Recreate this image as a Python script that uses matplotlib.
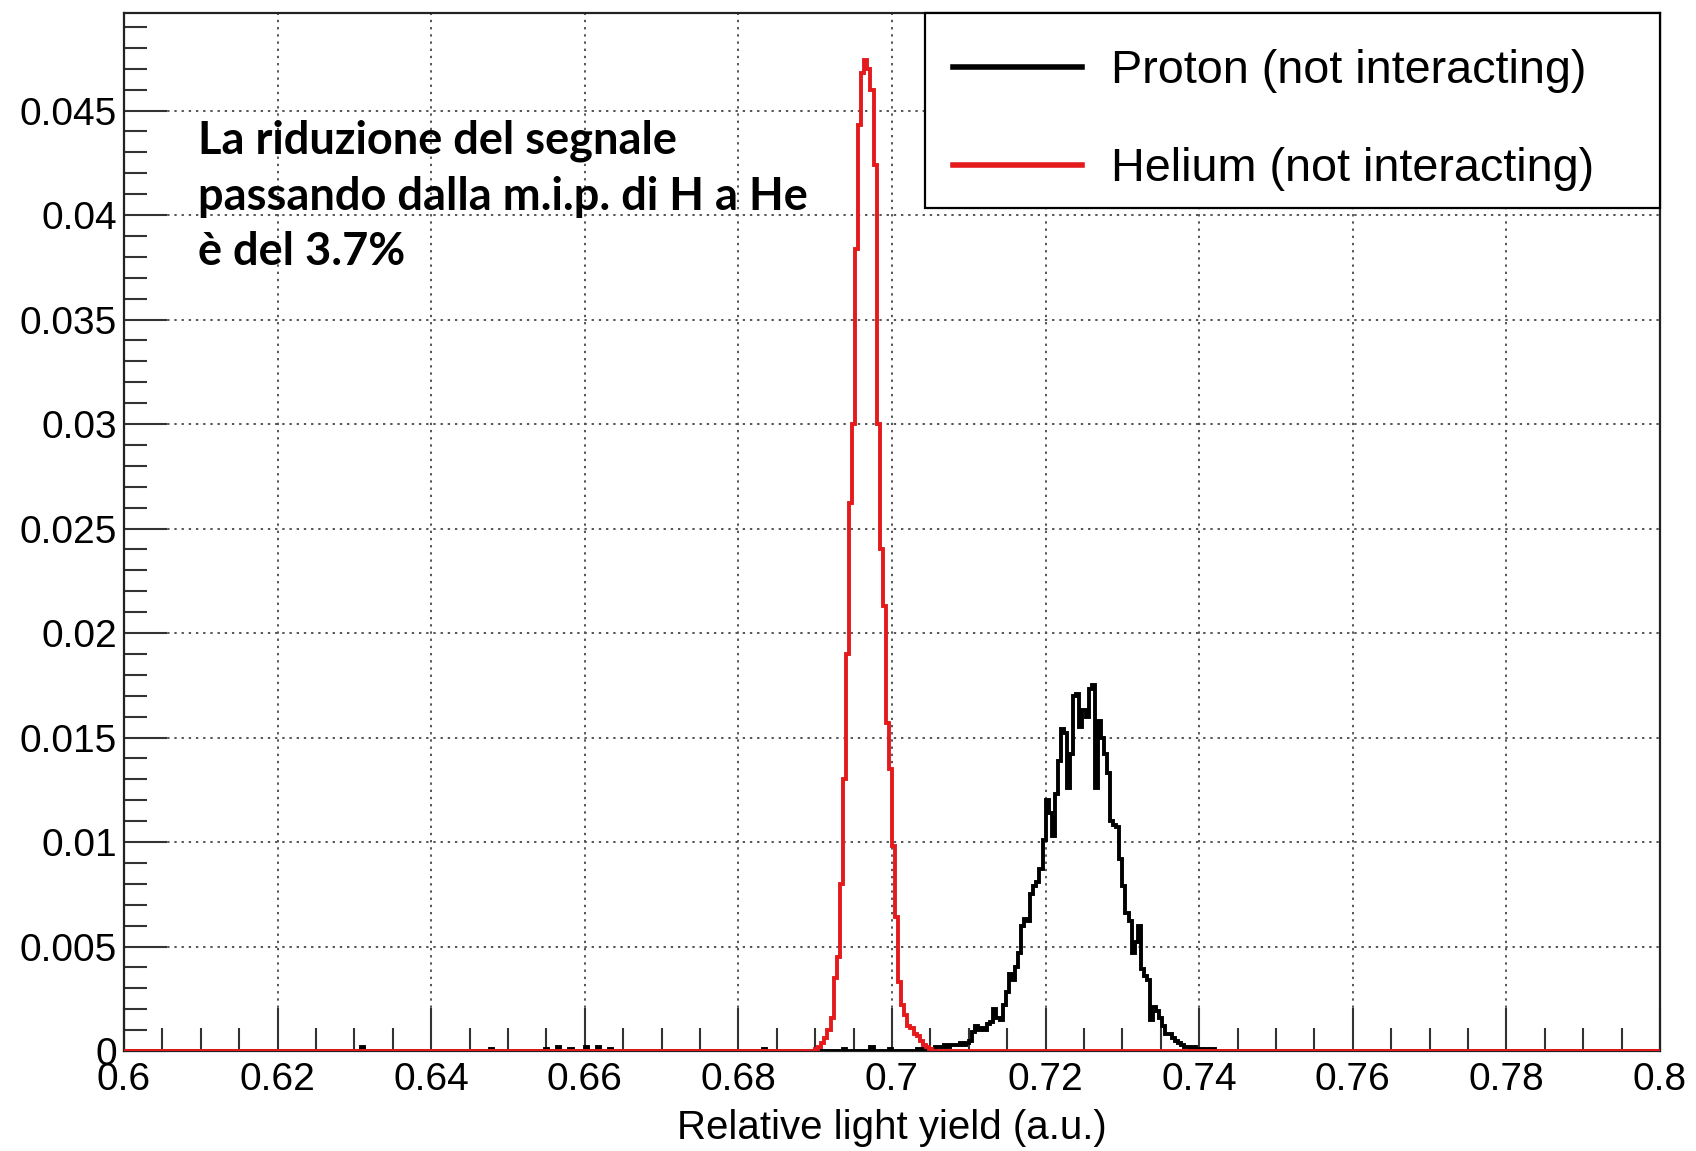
import numpy as np
import matplotlib.pyplot as plt
from matplotlib.patches import Rectangle
from matplotlib.ticker import MultipleLocator, FormatStrFormatter

plt.rcParams['font.family'] = ['Liberation Sans', 'DejaVu Sans']

# binning of the histograms (0.6 -> 0.8, 500 bins)
x_min, x_max, n_bins = 0.6, 0.8, 500

# Helium (not interacting): contents starting at bin edge 0.6900
helium_start = 0.6900
helium = [0.0001, 0.0002, 0.0004, 0.0006, 0.0010, 0.0016, 0.0035, 0.0045,
          0.0080, 0.0130, 0.0190, 0.0262, 0.0300, 0.0384, 0.0443, 0.0468,
          0.0474, 0.0470, 0.0460, 0.0424, 0.0300, 0.0240, 0.0213, 0.0157,
          0.0135, 0.0098, 0.0064, 0.0033, 0.0022, 0.0017, 0.0012, 0.0011,
          0.0008, 0.0007, 0.0005, 0.0003, 0.0002, 0.0001]

# Proton (not interacting): contents starting at bin edge 0.7032
proton_start = 0.7032
proton = [0.0001, 0.0001, 0.0001, 0.0000, 0.0001, 0.0001, 0.0002, 0.0002,
          0.0002, 0.0003, 0.0002, 0.0003, 0.0003, 0.0003, 0.0004, 0.0003,
          0.0004, 0.0005, 0.0009, 0.0012, 0.0010, 0.0011, 0.0010, 0.0013,
          0.0014, 0.0020, 0.0016, 0.0015, 0.0022, 0.0028, 0.0037, 0.0034,
          0.0040, 0.0047, 0.0060, 0.0063, 0.0062, 0.0075, 0.0079, 0.0081,
          0.0087, 0.0101, 0.0120, 0.0114, 0.0103, 0.0123, 0.0139, 0.0154,
          0.0152, 0.0126, 0.0142, 0.0170, 0.0171, 0.0155, 0.0163, 0.0160,
          0.0173, 0.0175, 0.0126, 0.0158, 0.0150, 0.0142, 0.0133, 0.0110,
          0.0108, 0.0107, 0.0092, 0.0079, 0.0066, 0.0062, 0.0047, 0.0052,
          0.0060, 0.0039, 0.0036, 0.0034, 0.0015, 0.0021, 0.0019, 0.0016,
          0.0012, 0.0008, 0.0008, 0.0006, 0.0005, 0.0004, 0.0003, 0.0002,
          0.0002, 0.0001, 0.0002, 0.0001, 0.0001, 0.0000, 0.0001]

# isolated proton entries far from the peak
proton_tail_x = [0.6308, 0.6476, 0.6548, 0.6564, 0.6580, 0.6600, 0.6616,
                 0.6632, 0.6832, 0.6936, 0.6972, 0.6996, 0.7416]
proton_tail_y = [0.0002, 0.0001, 0.0001, 0.0002, 0.0001, 0.0002, 0.0002,
                 0.0001, 0.0001, 0.0001, 0.0002, 0.0001, 0.0001]

edges = np.linspace(x_min, x_max, n_bins + 1)
width = (x_max - x_min) / n_bins


def fill(start, values):
    h = np.zeros(n_bins)
    i0 = int(round((start - x_min) / width))
    h[i0:i0 + len(values)] = values
    return h


h_he = fill(helium_start, helium)
h_p = fill(proton_start, proton)
for xt, yt in zip(proton_tail_x, proton_tail_y):
    h_p[int(round((xt - x_min) / width))] += yt

fig = plt.figure(figsize=(16.96, 11.51), dpi=100)
ax = fig.add_axes([124 / 1696, 100 / 1151, 1536 / 1696, 1038 / 1151])

ax.stairs(h_p, edges, color='black', linewidth=2.8, label='Proton (not interacting)', zorder=3)
ax.stairs(h_he, edges, color='#e41a1c', linewidth=2.8, label='Helium (not interacting)', zorder=4)

ax.set_xlim(x_min, x_max)
ax.set_ylim(0, 0.04967)

ax.xaxis.set_major_locator(MultipleLocator(0.02))
ax.xaxis.set_minor_locator(MultipleLocator(0.005))
ax.yaxis.set_major_locator(MultipleLocator(0.005))
ax.yaxis.set_minor_locator(MultipleLocator(0.001))
ax.xaxis.set_major_formatter(FormatStrFormatter('%g'))
ax.yaxis.set_major_formatter(FormatStrFormatter('%g'))

ax.tick_params(which='both', direction='in', width=1.5, color='#333333', labelsize=28)
ax.tick_params(which='major', length=31)
ax.tick_params(which='minor', length=16.5)
ax.tick_params(axis='x', pad=8)
ax.tick_params(axis='y', pad=5)

ax.grid(True, which='major', color='#555555', linestyle=(0, (1.2, 2.5)), linewidth=1.4)
ax.set_axisbelow(True)
for s in ax.spines.values():
    s.set_linewidth(1.6)
    s.set_color('#222222')

ax.set_xlabel('Relative light yield (a.u.)', fontsize=29)
ax.xaxis.set_label_coords(0.5, -0.056)

ax.text(0.048, 0.897, 'La riduzione del segnale\npassando dalla m.i.p. di H a He\nè del 3.7%',
        transform=ax.transAxes, ha='left', va='top', fontsize=32.5,
        family=['Lato', 'DejaVu Sans'], fontweight='bold', linespacing=1.39)

# legend box (ROOT TLegend style) and its entries
ax.add_patch(Rectangle((801 / 1536, 843 / 1038), 735 / 1536, 195 / 1038,
                       transform=ax.transAxes, facecolor='white', edgecolor='black',
                       linewidth=1.6, zorder=5, clip_on=False))
leg = ax.legend(loc='center left', bbox_to_anchor=(829 / 1536, 0.8966),
                borderaxespad=0, borderpad=0, fontsize=33.7, frameon=False,
                labelspacing=1.16, handlelength=2.75, handletextpad=0.62)
leg.set_zorder(6)
for line in leg.get_lines():
    line.set_linewidth(4)

fig.savefig('out.png', dpi=100, facecolor='white')
